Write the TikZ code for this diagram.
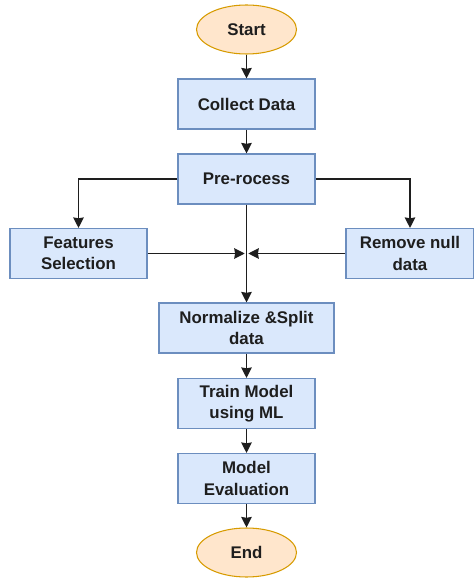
\documentclass[tikz,border=0pt]{standalone}
\usepackage{fontspec}
\setmainfont{Liberation Sans}
\usetikzlibrary{arrows.meta,shapes.geometric}
\definecolor{BoxFill}{HTML}{DAE8FC}
\definecolor{BoxLine}{HTML}{6C8EBF}
\definecolor{TermFill}{HTML}{FFE6CC}
\definecolor{TermLine}{HTML}{D79B00}
\definecolor{InkGray}{HTML}{1E1E1E}

\begin{document}
\begin{tikzpicture}[
    every node/.style={font=\fontsize{9.6}{12}\selectfont\bfseries, align=center, text=InkGray},
    procbox/.style={draw=BoxLine, fill=BoxFill, line width=0.6pt, rectangle,
        minimum width=2.74cm, minimum height=1cm, inner sep=1pt},
    terminal/.style={draw=TermLine, fill=TermFill, line width=0.6pt, ellipse,
        minimum width=2cm, minimum height=0.98cm, inner sep=0pt},
    link/.style={-{Stealth[length=6pt,width=6pt,inset=0.5pt]}, line width=0.75pt, draw=InkGray}
]
\useasboundingbox (0,0) rectangle (9.48,-11.56);
% Nodes
\node[terminal] (start) at (4.93,-0.59) {Start};
\node[procbox] (collect) at (4.93,-2.08) {Collect Data};
\node[procbox] (preproc) at (4.93,-3.58) {Pre-rocess};

\node[procbox] (features) at (1.57,-5.07) {Features\\Selection};
\node[procbox, minimum width=2.56cm] (nullrem) at (8.2,-5.07) {Remove null\\data};
\coordinate (join) at (4.93,-5.07);

\node[procbox, minimum width=3.5cm] (normsplit) at (4.93,-6.56) {Normalize \&Split\\data};
\node[procbox] (train) at (4.93,-8.07) {Train Model\\using ML};
\node[procbox] (evaluate) at (4.93,-9.57) {Model\\Evaluation};
\node[terminal] (stop) at (4.93,-11.05) {End};

% Arrows
\draw[link] (start) -- (collect);
\draw[link] (collect) -- (preproc);
\draw[link] (preproc.west) -| (features.north);
\draw[link] (preproc.east) -| (nullrem.north);
\draw[link] (preproc) -- (normsplit);
\draw[link, shorten >=1pt] (features) -- (join);
\draw[link, shorten >=1pt] (nullrem) -- (join);
\draw[link] (normsplit) -- (train);
\draw[link] (train) -- (evaluate);
\draw[link] (evaluate) -- (stop);
\end{tikzpicture}
\end{document}
